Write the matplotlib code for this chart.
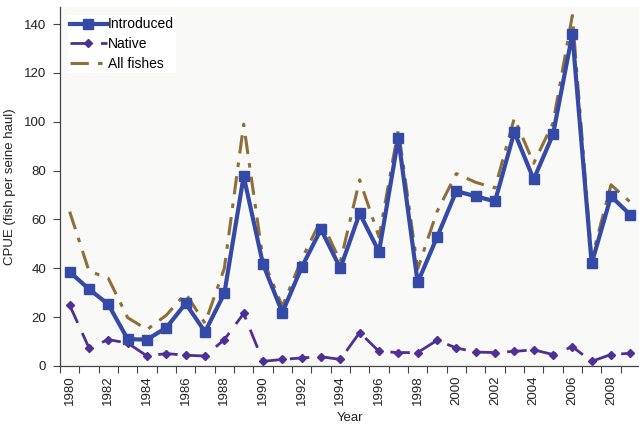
import matplotlib
matplotlib.use("Agg")
import matplotlib.pyplot as plt
import numpy as np

plt.rcParams["font.family"] = ["Liberation Sans", "DejaVu Sans"]

years = list(range(1980, 2010))

introduced = [38.5, 31.5, 25.2, 11.0, 10.8, 15.7, 25.6, 14.0, 29.7, 77.7,
              41.7, 21.9, 40.4, 56.0, 40.0, 62.5, 46.8, 93.2, 34.2, 52.7,
              71.6, 69.5, 67.4, 95.8, 76.4, 94.8, 135.9, 42.0, 69.5, 61.9]

native = [24.9, 7.4, 10.8, 9.4, 4.1, 5.1, 4.4, 4.1, 10.8, 21.5,
          1.9, 2.7, 3.3, 3.8, 2.7, 13.7, 6.0, 5.5, 5.5, 10.5,
          7.4, 5.7, 5.5, 6.0, 6.6, 4.7, 7.9, 1.9, 4.7, 5.2]

all_fishes = [63.2, 38.9, 35.9, 19.8, 14.9, 20.8, 29.7, 17.5, 40.0, 99.0,
              43.6, 24.4, 43.7, 59.8, 42.7, 76.2, 52.8, 96.7, 39.7, 63.2,
              78.8, 75.2, 72.9, 101.5, 83.0, 99.5, 143.5, 43.9, 74.2, 67.1]

blue = "#3549a6"
purple = "#4e2f96"
brown = "#8f6e3a"

fig = plt.figure(figsize=(6.39, 4.25), dpi=100)
ax = fig.add_axes([60 / 639, 59 / 425, 580 / 639, 359 / 425])
ax.set_facecolor("#f9f9f7")

x = np.arange(len(years))

ax.plot(x, all_fishes, color=brown, lw=2.2, dashes=(6, 3, 1.5, 3),
        label="All fishes", zorder=2)
ax.plot(x, native, color=purple, lw=2.0, dashes=(7, 4), marker="D",
        markersize=4.5, label="Native", zorder=3)
ax.plot(x, introduced, color=blue, lw=3.0, marker="s", markersize=6.5,
        label="Introduced", zorder=4)

ax.set_xlim(-0.5, len(years) - 0.5)
ax.set_ylim(0, 147)

# ticks at category boundaries, labels at every other year
ax.set_xticks(np.arange(-0.5, len(years), 1.0))
ax.set_xticklabels([])
ax.set_xticks(x[::2], minor=True)
ax.set_xticklabels([str(y) for y in years[::2]], minor=True, rotation=90)
ax.tick_params(axis="x", which="major", length=5, width=0.8, color="#444444")
ax.tick_params(axis="x", which="minor", length=0, pad=7, labelsize=9.5,
               labelcolor="#222222")

ax.set_yticks(range(0, 141, 20))
ax.tick_params(axis="y", length=5, width=0.8, color="#444444", labelsize=9.5,
               labelcolor="#222222", pad=5)

for s in ["top", "right"]:
    ax.spines[s].set_visible(False)
for s in ["left", "bottom"]:
    ax.spines[s].set_color("#444444")
    ax.spines[s].set_linewidth(0.9)

ax.set_xlabel("Year", fontsize=9.5, color="#222222", labelpad=5)
ax.set_ylabel("CPUE (fish per seine haul)", fontsize=9.5, color="#222222",
              labelpad=6)

h, l = ax.get_legend_handles_labels()
leg = ax.legend(h[::-1], l[::-1], loc="upper left", frameon=True,
                fancybox=False, edgecolor="none", facecolor="white",
                framealpha=1, fontsize=10, handlelength=2.6,
                handletextpad=0.1, labelspacing=0.4, borderaxespad=0.6,
                borderpad=0.15)

fig.savefig("out.png", dpi=100)
